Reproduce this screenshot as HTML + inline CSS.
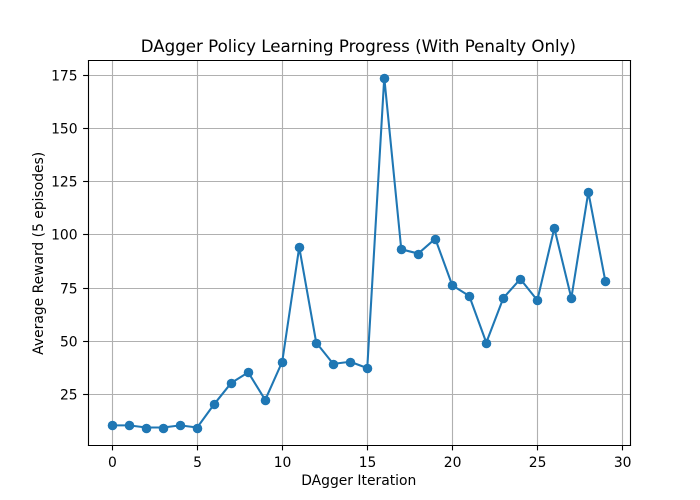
<!DOCTYPE html>
<html lang="en">
<head>
<meta charset="utf-8">
<title>DAgger Policy Learning Progress</title>
<style>
html,body{margin:0;padding:0;background:#fff;width:700px;height:500px;overflow:hidden}
svg{display:block}
text{font-family:"DejaVu Sans","Liberation Sans",sans-serif;fill:#000}
</style>
</head>
<body>
<svg id="chart" width="700" height="500" viewBox="0 0 700 500" xmlns="http://www.w3.org/2000/svg">
  <rect x="0" y="0" width="700" height="500" fill="#fff"/>
  <rect x="87.5" y="60" width="542.5" height="385" fill="#fff"/>
  <g id="grid"></g>
  <path id="line" fill="none" stroke="#1f77b4" stroke-width="2.08" stroke-linejoin="round" stroke-linecap="square"></path>
  <g id="points"></g>
  <g id="spines" stroke="#000" stroke-width="1.11" stroke-linecap="square">
    <line x1="88.5" y1="60.5" x2="88.5" y2="445.5"/>
    <line x1="630.5" y1="60.5" x2="630.5" y2="445.5"/>
    <line x1="88.5" y1="60.5" x2="630.5" y2="60.5"/>
    <line x1="88.5" y1="445.5" x2="630.5" y2="445.5"/>
  </g>
  <g id="ticks"></g>
  <text x="358.4" y="52" text-anchor="middle" font-size="16.65">DAgger Policy Learning Progress (With Penalty Only)</text>
  <text x="358.75" y="485" text-anchor="middle" font-size="13.89">DAgger Iteration</text>
  <text transform="translate(43 253.3) rotate(-90)" text-anchor="middle" font-size="13.89">Average Reward (5 episodes)</text>
</svg>
<script>
const iterations = [0,1,2,3,4,5,6,7,8,9,10,11,12,13,14,15,16,17,18,19,20,21,22,23,24,25,26,27,28,29];
const rewards = [10,10,9,9,10,9,20,30,35,22,40,94,49,39,40,37,174,93,91,98,76,71,49,70,79,69,103,70,120,78];
const xTicks = [0,5,10,15,20,25,30];
const yTicks = [25,50,75,100,125,150,175];

const NS = 'http://www.w3.org/2000/svg';
const left = 87.5, right = 630, top_ = 60, bottom = 445;
const xMinD = Math.min(...iterations), xMaxD = Math.max(...iterations);
const yMinD = Math.min(...rewards), yMaxD = Math.max(...rewards);
const xPad = (xMaxD - xMinD) * 0.05, yPad = (yMaxD - yMinD) * 0.05;
const xScale = v => left + (v - (xMinD - xPad)) / ((xMaxD + xPad) - (xMinD - xPad)) * (right - left);
const yScale = v => bottom - (v - (yMinD - yPad)) / ((yMaxD + yPad) - (yMinD - yPad)) * (bottom - top_);
const snap = p => Math.round(p) + 0.5;

function make(tag, parent, props) {
  const el = document.createElementNS(NS, tag);
  for (const k in props) el.setAttribute(k, props[k]);
  parent.appendChild(el);
  return el;
}

const grid = document.getElementById('grid');
const ticks = document.getElementById('ticks');

xTicks.forEach(t => {
  const x = snap(xScale(t));
  const g = make('line', grid, {x1:x, y1:60, x2:x, y2:445, stroke:'#b0b0b0', 'stroke-width':1.11});
  
  
  const m = make('line', ticks, {x1:x, y1:445.5, x2:x, y2:450.4, stroke:'#000', 'stroke-width':1.11});
  
  
  const l = make('text', ticks, {x:xScale(t) + 0.3, y:467, 'text-anchor':'middle', 'font-size':13.89});
  
  
  l.textContent = t;
});

yTicks.forEach(t => {
  const y = snap(yScale(t));
  const g = make('line', grid, {x1:88, y1:y, x2:630, y2:y, stroke:'#b0b0b0', 'stroke-width':1.11});
  
  
  const m = make('line', ticks, {x1:83.1, y1:y, x2:88, y2:y, stroke:'#000', 'stroke-width':1.11});
  
  
  const l = make('text', ticks, {x:77.6, y:Math.round(yScale(t)) + 5.5, 'text-anchor':'end', 'font-size':13.89});
  
  
  l.textContent = t;
});

document.getElementById('line').setAttribute('d',
  rewards.map((v, i) => (i ? 'L' : 'M') + xScale(iterations[i]) + ' ' + yScale(v)).join(' '));

const points = document.getElementById('points');
rewards.forEach((v, i) => {
  const c = make('circle', points, {cx:snap(xScale(iterations[i])), cy:snap(yScale(v)), r:4.8, fill:'#1f77b4'});
  
  
});
</script>
</body>
</html>
